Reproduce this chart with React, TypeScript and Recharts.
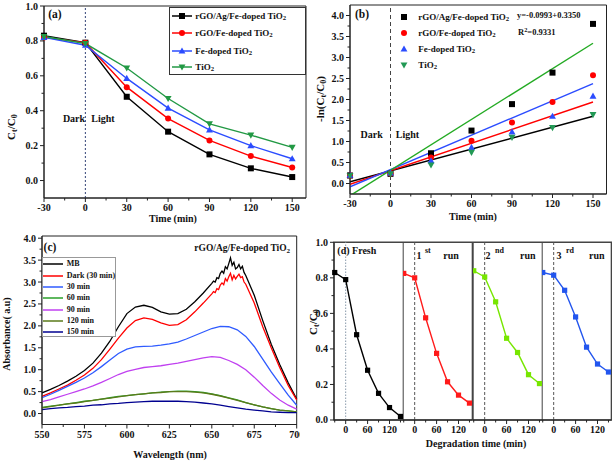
import React from "react";
import { LineChart, Line, XAxis, YAxis, ReferenceLine, ReferenceArea } from "recharts";

const FONT = '"Liberation Serif", "Times New Roman", serif';
const AX = "#222";

// ---------- (a) Ct/C0 vs time
const timeA = [-30, 0, 30, 60, 90, 120, 150];
const agFeA = [0.83, 0.79, 0.48, 0.28, 0.15, 0.07, 0.02];
const feGoA = [0.82, 0.79, 0.535, 0.355, 0.23, 0.14, 0.075];
const feA = [0.82, 0.775, 0.585, 0.415, 0.29, 0.2, 0.125];
const tiA = [0.825, 0.785, 0.645, 0.47, 0.325, 0.26, 0.19];
const namesA = ["rGO/Ag/Fe-doped TiO", "rGO/Fe-doped TiO", "Fe-doped TiO", "TiO"];
const xMajA = [-30, 0, 30, 60, 90, 120, 150];
const xMinA = [-15, 15, 45, 75, 105, 135];
const yMajA = [0, 0.2, 0.4, 0.6, 0.8, 1.0];
const yMinA = [0.1, 0.3, 0.5, 0.7, 0.9];

// ---------- (b) -ln(Ct/C0) vs time
const timeB = [-30, 0, 30, 60, 90, 120, 150];
const agFeB = [0.19, 0.23, 0.72, 1.26, 1.89, 2.64, 3.8];
const feGoB = [0.19, 0.24, 0.62, 1.02, 1.45, 1.94, 2.58];
const feB = [0.2, 0.25, 0.54, 0.86, 1.23, 1.6, 2.08];
const tiB = [0.19, 0.23, 0.44, 0.74, 1.1, 1.33, 1.64];
const fitX = [-30, 150];
const fitAgFe = [0.04, 1.6];
const fitFeGo = [-0.02, 1.94];
const fitFe = [-0.08, 2.38];
const fitTi = [-0.29, 3.34];
const yMajB = [0, 0.5, 1, 1.5, 2, 2.5, 3, 3.5, 4];
const yMinB = [0.25, 0.75, 1.25, 1.75, 2.25, 2.75, 3.25, 3.75];

// ---------- (c) UV-vis spectra
const wl = [550, 555, 560, 565, 570, 575, 580, 585, 590, 595, 600, 605, 610, 615, 620, 625, 630, 635, 640, 645, 650, 655, 660, 665, 670, 675, 680, 685, 690, 695, 700];
const mbC = [0.47, 0.55, 0.64, 0.74, 0.85, 0.98, 1.15, 1.38, 1.65, 1.98, 2.28, 2.43, 2.47, 2.42, 2.32, 2.27, 2.28, 2.38, 2.55, 2.75, 2.97, 3.2, 3.42, 3.33, 3.15, 2.7, 2.12, 1.58, 1.12, 0.7, 0.33];
const darkC = [0.39, 0.47, 0.56, 0.65, 0.76, 0.88, 1.03, 1.23, 1.47, 1.72, 1.95, 2.12, 2.18, 2.15, 2.07, 2.01, 2.03, 2.14, 2.32, 2.52, 2.73, 2.93, 3.12, 3.13, 2.95, 2.52, 1.98, 1.5, 1.05, 0.64, 0.31];
const m30C = [0.36, 0.44, 0.53, 0.62, 0.71, 0.81, 0.93, 1.07, 1.22, 1.37, 1.47, 1.52, 1.53, 1.54, 1.56, 1.59, 1.63, 1.7, 1.78, 1.86, 1.94, 1.99, 1.98, 1.91, 1.76, 1.53, 1.24, 0.95, 0.68, 0.42, 0.19];
const m60C = [0.14, 0.17, 0.19, 0.22, 0.25, 0.28, 0.3, 0.33, 0.36, 0.39, 0.41, 0.43, 0.45, 0.47, 0.49, 0.5, 0.51, 0.51, 0.5, 0.48, 0.45, 0.41, 0.36, 0.31, 0.25, 0.2, 0.15, 0.11, 0.08, 0.06, 0.04];
const m90C = [0.27, 0.32, 0.38, 0.44, 0.5, 0.56, 0.63, 0.71, 0.8, 0.89, 0.96, 1.01, 1.05, 1.07, 1.09, 1.12, 1.15, 1.19, 1.23, 1.27, 1.3, 1.28, 1.21, 1.12, 1.0, 0.83, 0.64, 0.46, 0.31, 0.19, 0.1];
const m120C = [0.13, 0.16, 0.19, 0.22, 0.24, 0.27, 0.3, 0.33, 0.35, 0.38, 0.41, 0.43, 0.45, 0.47, 0.48, 0.5, 0.5, 0.5, 0.49, 0.47, 0.44, 0.4, 0.35, 0.3, 0.25, 0.2, 0.15, 0.11, 0.08, 0.06, 0.04];
const m150C = [0.09, 0.11, 0.13, 0.14, 0.16, 0.17, 0.19, 0.2, 0.22, 0.23, 0.25, 0.26, 0.27, 0.28, 0.28, 0.28, 0.28, 0.27, 0.26, 0.24, 0.22, 0.19, 0.16, 0.13, 0.1, 0.08, 0.06, 0.04, 0.03, 0.02, 0.02];
// noisy top of the two strongest spectra
const wlNoise = [651, 652, 653, 654, 656, 657, 658, 659, 661, 662, 663, 664, 666, 667, 668, 669];
const mbNoise = [3.02, 3.0, 3.1, 3.08, 3.25, 3.2, 3.35, 3.3, 3.55, 3.38, 3.45, 3.3, 3.4, 3.3, 3.36, 3.22];
const darkNoise = [2.78, 2.76, 2.85, 2.83, 2.98, 2.94, 3.08, 3.02, 3.2, 3.05, 3.15, 3.07, 3.18, 3.1, 3.12, 3.0];
const namesC = ["MB", "Dark (30 min)", "30 min", "60 min", "90 min", "120 min", "150 min"];
const colorsC = ["#000000", "#ff0000", "#2f5bff", "#2aa02a", "#c040f0", "#5a7a1a", "#000090"];
const xMajC = [550, 575, 600, 625, 650, 675, 700];
const xMinC = [562.5, 587.5, 612.5, 637.5, 662.5, 687.5];

// ---------- (d) recycling runs
const timeD = [-30, 0, 30, 60, 90, 120, 150];
const freshD = [0.83, 0.79, 0.48, 0.28, 0.15, 0.07, 0.02];
const run1D = [0.825, 0.8, 0.575, 0.375, 0.215, 0.14, 0.095];
const run2D = [0.84, 0.805, 0.665, 0.46, 0.38, 0.255, 0.205];
const run3D = [0.83, 0.815, 0.73, 0.58, 0.41, 0.315, 0.27];
const xMajD = [0, 60, 120];
const xMinD = [-30, 30, 90, 150];
const yMajD = [0, 0.2, 0.4, 0.6, 0.8, 1.0];
const yMinD = [0.1, 0.3, 0.5, 0.7, 0.9];

const fmt1 = (v: number) => v.toFixed(1);
const fmtI = (v: number) => String(v);

const near = (arr: number[], v: number) => arr.some((m) => Math.abs(m - v) < 1e-6);

function bottomTick(majors: number[], fmt: (v: number) => string) {
  return (p: any) => {
    const v = p.payload.value;
    const major = near(majors, v);
    return (
      <g>
        <line x1={p.x} x2={p.x} y1={p.y} y2={p.y + (major ? 4 : 2.5)} stroke={AX} strokeWidth={1} />
        {major && (
          <text x={p.x} y={p.y + 13} textAnchor="middle" fontFamily={FONT} fontWeight="bold" fontSize={10} fill="#111">
            {fmt(v)}
          </text>
        )}
      </g>
    );
  };
}

function leftTick(majors: number[], fmt: (v: number) => string) {
  return (p: any) => {
    const v = p.payload.value;
    const major = near(majors, v);
    return (
      <g>
        <line x1={p.x} x2={p.x - (major ? 4 : 2.5)} y1={p.y} y2={p.y} stroke={AX} strokeWidth={1} />
        {major && (
          <text x={p.x - 6} y={p.y + 3.5} textAnchor="end" fontFamily={FONT} fontWeight="bold" fontSize={10} fill="#111">
            {fmt(v)}
          </text>
        )}
      </g>
    );
  };
}

function Mark({ cx, cy, shape, color, s = 3 }: any) {
  if (cx == null || cy == null) return null;
  if (shape === "square") return <rect x={cx - s} y={cy - s} width={2 * s} height={2 * s} fill={color} />;
  if (shape === "circle") return <circle cx={cx} cy={cy} r={s} fill={color} />;
  if (shape === "up")
    return <polygon points={`${cx},${cy - s * 1.2} ${cx + s * 1.15},${cy + s * 0.85} ${cx - s * 1.15},${cy + s * 0.85}`} fill={color} />;
  return <polygon points={`${cx},${cy + s * 1.2} ${cx + s * 1.15},${cy - s * 0.85} ${cx - s * 1.15},${cy - s * 0.85}`} fill={color} />;
}

const dotOf = (shape: string, color: string, s = 3) => (p: any) => (
  <g key={p.index}>
    <Mark cx={p.cx} cy={p.cy} shape={shape} color={color} s={s} />
  </g>
);

function Txt({ x, y, size = 10, anchor = "middle", rotate = false, children }: any) {
  const tx = anchor === "middle" ? "-50%" : anchor === "end" ? "-100%" : "0";
  return (
    <div
      style={{
        position: "absolute",
        left: x,
        top: y,
        transform: `translate(${tx}, -50%)${rotate ? " rotate(-90deg)" : ""}`,
        fontFamily: FONT,
        fontWeight: "bold",
        fontSize: size,
        lineHeight: 1,
        whiteSpace: "nowrap",
        color: "#111",
      }}
    >
      {children}
    </div>
  );
}

function Sample({ color, shape, w = 20, line = true }: any) {
  return (
    <svg width={w} height={10} style={{ display: "block" }}>
      {line && <line x1={0} x2={w} y1={5} y2={5} stroke={color} strokeWidth={1.5} />}
      {shape && <Mark cx={w / 2} cy={5} shape={shape} color={color} s={3} />}
    </svg>
  );
}

const sub = (s: string) => <sub style={{ fontSize: "0.75em", verticalAlign: "-0.25em", lineHeight: 0 }}>{s}</sub>;
const sup = (s: string) => <sup style={{ fontSize: "0.75em", verticalAlign: "0.45em", lineHeight: 0 }}>{s}</sup>;

const seriesA = [
  { key: "agFe", color: "#000000", shape: "square" },
  { key: "feGo", color: "#ff0000", shape: "circle" },
  { key: "fe", color: "#2b4cff", shape: "up" },
  { key: "ti", color: "#229944", shape: "down" },
];
const seriesB = [
  { key: "agFe", color: "#000000", shape: "square" },
  { key: "feGo", color: "#ff0000", shape: "circle" },
  { key: "fe", color: "#2b4cff", shape: "up" },
  { key: "ti", color: "#229955", shape: "down" },
];
const fitsB = [
  { y: fitAgFe, color: "#000000" },
  { y: fitFeGo, color: "#ff0000" },
  { y: fitFe, color: "#2b4cff" },
  { y: fitTi, color: "#22aa22" },
];

export default function App() {
  const rowsA = timeA.map((t, i) => ({ t, agFe: agFeA[i], feGo: feGoA[i], fe: feA[i], ti: tiA[i] }));
  const rowsB = timeB.map((t, i) => ({ t, agFe: agFeB[i], feGo: feGoB[i], fe: feB[i], ti: tiB[i] }));
  const keysC = ["mb", "dark", "m30", "m60", "m90", "m120", "m150"];
  const valsC = [mbC, darkC, m30C, m60C, m90C, m120C, m150C];
  const rowsC: any[] = wl.map((w, i) => {
    const r: any = { w };
    keysC.forEach((k, j) => (r[k] = valsC[j][i]));
    return r;
  });
  wlNoise.forEach((w, i) => rowsC.push({ w, mb: mbNoise[i], dark: darkNoise[i] }));
  rowsC.sort((a, b) => a.w - b.w);

  const runs = [
    { vals: freshD, color: "#000000", zero: "#8899aa", dash: "1.5 1.5" },
    { vals: run1D, color: "#ff1a1a", zero: "#555", dash: "3 2" },
    { vals: run2D, color: "#77e600", zero: "#555", dash: "3 2" },
    { vals: run3D, color: "#2255ee", zero: "#555", dash: "3 2" },
  ];
  const subW = 69.4;
  const rowYA = [16, 33.3, 50.7, 66.7];
  const rowYB = [16.7, 33.3, 49.3, 65];

  return (
    <div style={{ position: "absolute", left: 0, top: 0, width: 614, height: 462, background: "#fff", overflow: "hidden" }}>
      {/* (a) */}
      <div style={{ position: "absolute", left: 0, top: 0 }}>
        <LineChart width={310} height={230} data={rowsA} margin={{ top: 6, right: 4, left: 0, bottom: 0 }}>
          <XAxis dataKey="t" type="number" domain={[-30, 160]} ticks={[...xMajA, ...xMinA]} interval={0}
            tickSize={0} tickMargin={0} height={32} stroke={AX} tick={bottomTick(xMajA, fmtI)} />
          <YAxis type="number" domain={[-0.1, 1.0]} ticks={[...yMajA, ...yMinA]} interval={0}
            tickSize={0} tickMargin={0} width={44} stroke={AX} tick={leftTick(yMajA, fmt1)} />
          <ReferenceArea x1={-30} x2={160} y1={-0.1} y2={1.0} fill="none" stroke={AX} strokeWidth={1} />
          <ReferenceLine x={0} stroke="#334477" strokeDasharray="2 2" strokeWidth={1} />
          {seriesA.map((s) => (
            <Line key={s.key} dataKey={s.key} stroke={s.color} strokeWidth={1.4} isAnimationActive={false}
              dot={dotOf(s.shape, s.color)} activeDot={false} />
          ))}
        </LineChart>
      </div>

      {/* (b) */}
      <div style={{ position: "absolute", left: 300, top: 0 }}>
        <LineChart width={310} height={230} data={rowsB} margin={{ top: 5, right: 3.5, left: 0, bottom: 0 }}>
          <XAxis dataKey="t" type="number" domain={[-30, 160]} ticks={[...xMajA, ...xMinA]} interval={0}
            tickSize={0} tickMargin={0} height={36} stroke={AX} tick={bottomTick(xMajA, fmtI)} />
          <YAxis type="number" domain={[-0.25, 4.25]} ticks={[...yMajB, ...yMinB]} interval={0}
            tickSize={0} tickMargin={0} width={50} stroke={AX} tick={leftTick(yMajB, fmt1)} />
          <ReferenceArea x1={-30} x2={160} y1={-0.25} y2={4.25} fill="none" stroke={AX} strokeWidth={1} />
          <ReferenceLine x={0} stroke="#444" strokeDasharray="4 3" strokeWidth={1} />
          {fitsB.map((f, i) => (
            <ReferenceLine key={i} segment={[{ x: fitX[0], y: f.y[0] }, { x: fitX[1], y: f.y[1] }]}
              stroke={f.color} strokeWidth={1.4} ifOverflow="hidden" />
          ))}
          {seriesB.map((s) => (
            <Line key={s.key} dataKey={s.key} stroke="none" isAnimationActive={false}
              dot={dotOf(s.shape, s.color)} activeDot={false} />
          ))}
        </LineChart>
      </div>

      {/* (c) */}
      <div style={{ position: "absolute", left: 0, top: 230, width: 300, height: 232, overflow: "hidden" }}>
        <LineChart width={300} height={232} data={rowsC} margin={{ top: 6, right: 3.3, left: 0, bottom: 0 }}>
          <XAxis dataKey="w" type="number" domain={[550, 700]} ticks={[...xMajC, ...xMinC]} interval={0}
            tickSize={0} tickMargin={0} height={37.5} stroke={AX} tick={bottomTick(xMajC, fmtI)} />
          <YAxis type="number" domain={[-0.25, 4.05]} ticks={[...yMajB, ...yMinB]} interval={0}
            tickSize={0} tickMargin={0} width={42} stroke={AX} tick={leftTick(yMajB, fmt1)} />
          <ReferenceArea x1={550} x2={700} y1={-0.25} y2={4.05} fill="none" stroke={AX} strokeWidth={1} />
          {keysC.map((k, j) => (
            <Line key={k} dataKey={k} stroke={colorsC[j]} strokeWidth={1.3} isAnimationActive={false}
              dot={false} activeDot={false} connectNulls />
          ))}
        </LineChart>
      </div>

      {/* (d) */}
      {runs.map((r, i) => {
        const rows = timeD.map((t, j) => ({ t, v: r.vals[j] }));
        const left = i === 0 ? 300 : 334 + subW * i;
        const width = i === 0 ? 34 + subW : subW;
        return (
          <div key={i} style={{ position: "absolute", left, top: 236 }}>
            <LineChart width={width} height={226} data={rows} margin={{ top: 6.3, right: 0, left: 0, bottom: 0 }}>
              <XAxis dataKey="t" type="number" domain={[-32, 158]} ticks={[...xMajD, ...xMinD]} interval={0}
                tickSize={0} tickMargin={0} height={42} stroke={AX} tick={bottomTick(xMajD, fmtI)} />
              <YAxis type="number" domain={[0, 1]} ticks={[...yMajD, ...yMinD]} interval={0}
                tickSize={0} tickMargin={0} width={34} hide={i > 0} stroke={AX}
                tick={leftTick(yMajD, fmt1)} />
              <ReferenceArea x1={-32} x2={158} y1={0} y2={1} fill="none" stroke="#444" strokeWidth={1.4} />
              <ReferenceLine x={0} stroke={r.zero} strokeDasharray={r.dash} strokeWidth={1} />
              <Line dataKey="v" stroke={r.color} strokeWidth={1.4} isAnimationActive={false}
                dot={dotOf("square", r.color, 2.6)} activeDot={false} />
            </LineChart>
          </div>
        );
      })}

      {/* text: (a) */}
      <Txt x={55} y={15} size={11.5}>(a)</Txt>
      <Txt x={74} y={119}>Dark</Txt>
      <Txt x={103} y={119}>Light</Txt>
      <Txt x={173} y={219}>Time (min)</Txt>
      <Txt x={11} y={127} size={11} rotate>C{sub("t")}/C{sub("0")}</Txt>
      <div style={{ position: "absolute", left: 168.7, top: 6.7, width: 137.3, height: 68.3, border: "1px solid #333", boxSizing: "border-box", background: "#fff" }} />
      {namesA.map((n, i) => (
        <React.Fragment key={n}>
          <div style={{ position: "absolute", left: 171.7, top: rowYA[i] - 5 }}>
            <Sample color={seriesA[i].color} shape={seriesA[i].shape} />
          </div>
          <Txt x={195.3} y={rowYA[i]} size={9} anchor="start">{n}{sub("2")}</Txt>
        </React.Fragment>
      ))}

      {/* text: (b) */}
      <Txt x={362} y={15} size={11.5}>(b)</Txt>
      {namesA.map((n, i) => (
        <React.Fragment key={n}>
          <div style={{ position: "absolute", left: 394, top: rowYB[i] - 5 }}>
            <Sample color={seriesB[i].color} shape={seriesB[i].shape} line={false} />
          </div>
          <Txt x={418.3} y={rowYB[i]} size={9} anchor="start">{n}{sub("2")}</Txt>
        </React.Fragment>
      ))}
      <Txt x={517} y={15} size={8.5} anchor="start">y=-0.0993+0.3350</Txt>
      <Txt x={518} y={32.3} size={8.5} anchor="start">R{sup("2")}=0.9331</Txt>
      <Txt x={371.7} y={134.7}>Dark</Txt>
      <Txt x={407.5} y={134.7}>Light</Txt>
      <Txt x={473} y={217}>Time (min)</Txt>
      <Txt x={320} y={99} size={11} rotate>-ln(C{sub("t")}/C{sub("0")})</Txt>

      {/* text: (c) */}
      <Txt x={50} y={248.3} size={11.5}>(c)</Txt>
      <Txt x={194.3} y={249} size={9.5} anchor="start">rGO/Ag/Fe-doped TiO{sub("2")}</Txt>
      <div style={{ position: "absolute", left: 41.7, top: 257.3, width: 74, height: 80, border: "1px solid #999", boxSizing: "border-box", background: "#fff" }} />
      {namesC.map((n, i) => (
        <React.Fragment key={n}>
          <div style={{ position: "absolute", left: 43.3, top: 264.3 + i * 11.35 - 5 }}>
            <Sample color={colorsC[i]} />
          </div>
          <Txt x={66.7} y={264.3 + i * 11.35} size={8} anchor="start">{n}</Txt>
        </React.Fragment>
      ))}
      <Txt x={7} y={334} rotate>Absorbance( a.u)</Txt>
      <Txt x={170} y={455}>Wavelength (nm)</Txt>

      {/* text: (d) */}
      <Txt x={337.3} y={250.7} anchor="start">(d) Fresh</Txt>
      <Txt x={419} y={256}>1</Txt>
      <Txt x={425} y={250.5} size={8} anchor="start">st</Txt>
      <Txt x={443.3} y={256} anchor="start">run</Txt>
      <Txt x={488} y={256}>2</Txt>
      <Txt x={495} y={250.5} size={8} anchor="start">nd</Txt>
      <Txt x={520} y={256} anchor="start">run</Txt>
      <Txt x={559} y={256}>3</Txt>
      <Txt x={566} y={250.5} size={8} anchor="start">rd</Txt>
      <Txt x={589} y={256} anchor="start">run</Txt>
      <Txt x={313} y={322} size={11} rotate>C{sub("t")}/C{sub("0")}</Txt>
      <Txt x={476} y={444}>Degradation time (min)</Txt>
    </div>
  );
}
